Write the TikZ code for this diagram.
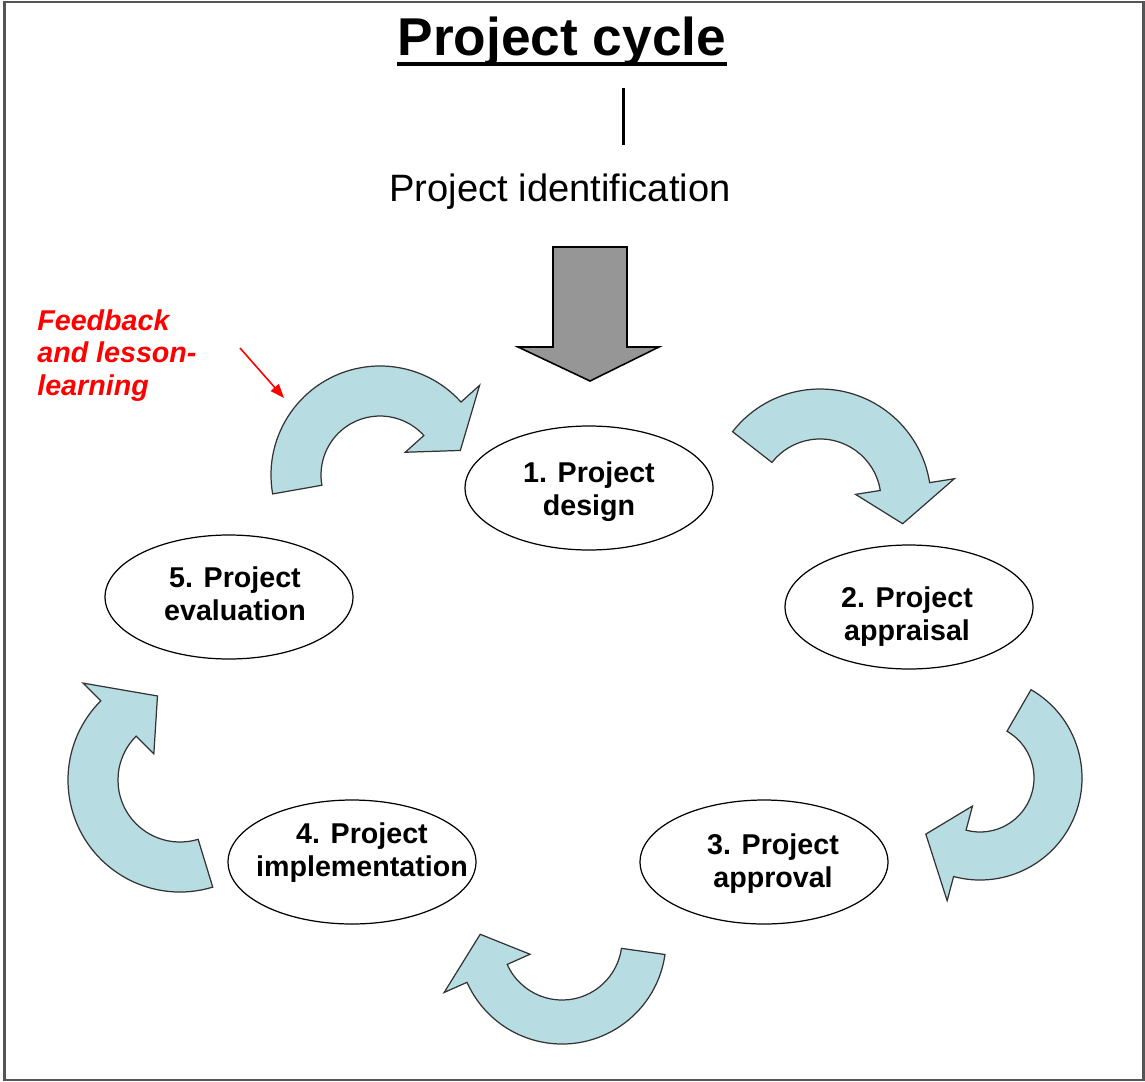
\documentclass[tikz,border=0pt]{standalone}
\usepackage{fontspec}
\setmainfont{Liberation Sans}
\usetikzlibrary{shapes.geometric,arrows.meta,calc}

\definecolor{arrowblue}{RGB}{183,221,227}
\definecolor{arrowgrey}{RGB}{150,150,150}
\definecolor{framegrey}{RGB}{85,85,85}

% curved block arrow: centre, mid radius, half width, start angle, end angle, tip angle
\newcommand\cyclearrow[6]{%
  \begin{scope}[shift={#1}]
    \draw[cycle arrow] ({#4}:{#2+#3}) arc[start angle=#4, end angle=#5, radius={#2+#3}]
      -- ({#5}:{#2+#3+25}) -- ({#6}:{#2}) -- ({#5}:{#2-#3-25}) -- ({#5}:{#2-#3})
      arc[start angle=#5, end angle=#4, radius={#2-#3}] -- cycle;
  \end{scope}}

\begin{document}
\begin{tikzpicture}[x=0.02cm,y=-0.02cm]
    \tikzset{stage/.style={ellipse, draw, line width=0.7pt, minimum width=4.96cm, minimum height=2.48cm, inner sep=0pt}}
    \tikzset{stage text/.style={inner sep=0pt, align=center, font=\bfseries\fontsize{16.3}{18.7}\selectfont}}
    \tikzset{cycle arrow/.style={fill=arrowblue, draw=black!80, line width=0.7pt, line join=miter}}
    \useasboundingbox (0,0) rectangle (1145,1081);
    \draw[framegrey, line width=1.2pt] (4.5,2) rectangle (1143.5,1080);

    % title
    \node[anchor=base, inner sep=0pt, font=\bfseries\fontsize{30.3}{34}\selectfont] (title) at (562,56) {Project cycle};
    \draw[line width=2.2pt] ($(title.base west)+(0,8)$) -- ($(title.base east)+(0,8)$);
    \coordinate (bar top) at (623,88);
    \coordinate (bar bottom) at (623,145);
    \draw[line width=1.7pt] (bar top) -- (bar bottom);
    \node[font=\fontsize{21.7}{26}\selectfont] (identification) at (560,192) {Project identification};

    % big arrow into the cycle
    \draw[fill=arrowgrey, line width=0.9pt, line join=miter]
        (553,247) -- (627,247) -- (627,347) -- (659,347) -- (590,381) -- (518,347) -- (553,347) -- cycle;

    % stages
    \node[stage] (design) at (589,488) {};
    \node[stage] (appraisal) at (909,607) {};
    \node[stage] (approval) at (764,862) {};
    \node[stage] (implementation) at (352,862) {};
    \node[stage] (evaluation) at (229,597) {};
    \node[stage text] (design text) at (589,492) {1. Project\\design};
    \node[stage text] (appraisal text) at (907,617) {2. Project\\appraisal};
    \node[stage text] (approval text) at (773,864) {3. Project\\approval};
    \node[stage text] (implementation text) at (362,853) {4. Project\\implementation};
    \node[stage text] (evaluation text) at (235,594) {5. Project\\evaluation};

    % arrows between stages
    \cyclearrow{(380,475)}{84}{25}{170}{318}{343}
    \cyclearrow{(820,500)}{86}{25}{218}{351}{376}
    \cyclearrow{(980,778)}{78}{24}{-60}{105}{134}
    \cyclearrow{(562,940)}{82}{22}{8}{156}{184}
    \cyclearrow{(180,780)}{87}{25}{73}{225}{255}

    % feedback note
    \node[anchor=north west, inner sep=0pt, align=left, text=red,
        font=\bfseries\itshape\fontsize{16.3}{18.7}\selectfont] (feedback) at (37,309) {Feedback\\and lesson-\\learning};
    \coordinate (feedback start) at (240,348);
    \coordinate (feedback end) at (284,398);
    \draw[red, line width=0.9pt, -{Triangle[length=8pt, width=6pt]}] (feedback start) -- (feedback end);
\end{tikzpicture}
\end{document}
